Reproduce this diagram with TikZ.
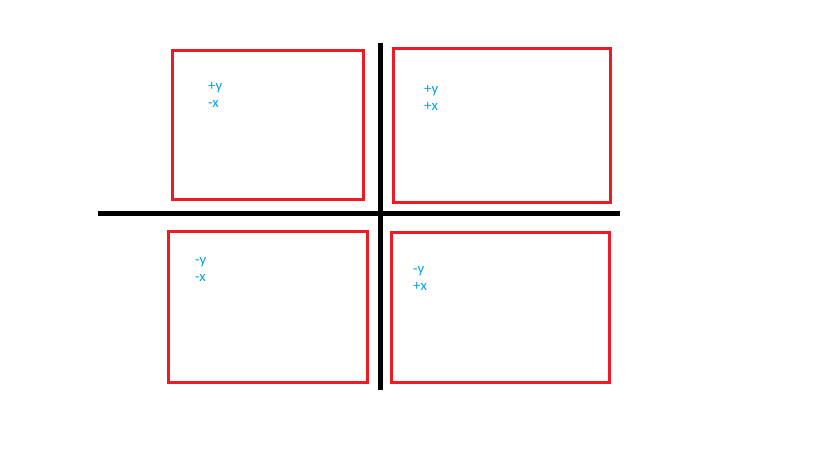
\documentclass[tikz,border=0pt]{standalone}
\usepackage{fontspec}
\setmainfont{Carlito}
\definecolor{boxred}{HTML}{ED1C24}
\definecolor{labblue}{HTML}{00A2E8}
\begin{document}
\begin{tikzpicture}[x=1pt,y=-1pt,
  quad/.style={draw=boxred,line width=3pt},
  axis/.style={draw=black,line width=4.5pt},
  lab/.style={anchor=base west,inner sep=0pt,text=labblue,font=\fontsize{14.7}{17.9}\selectfont}]
\useasboundingbox (0,0) rectangle (819,460);
\fill[white] (0,0) rectangle (819,460);
% quadrant boxes
\draw[quad] (172,51) rectangle (363.5,199);
\draw[quad] (393,49) rectangle (610,202);
\draw[quad] (168,231.5) rectangle (367,382);
\draw[quad] (391,232.5) rectangle (609.5,382);
% axes
\coordinate (hl) at (98,213.5);
\coordinate (hr) at (620,213.5);
\coordinate (vt) at (380.5,43);
\coordinate (vb) at (380.5,390);
\draw[axis] (hl) -- (hr);
\draw[axis] (vt) -- (vb);
% labels
\node[lab] (tl1) at (208,90.5) {+y};
\node[lab] (tl2) at (208,107.5) {-x};
\node[lab] (tr1) at (424,93.5) {+y};
\node[lab] (tr2) at (424,110.5) {+x};
\node[lab] (bl1) at (195,264) {-y};
\node[lab] (bl2) at (195,281) {-x};
\node[lab] (br1) at (413,273) {-y};
\node[lab] (br2) at (413,290) {+x};
\end{tikzpicture}
\end{document}
